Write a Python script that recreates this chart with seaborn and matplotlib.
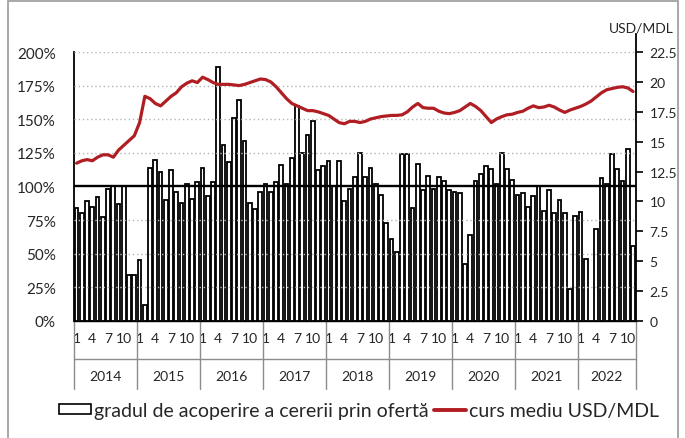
import matplotlib
matplotlib.use("Agg")
import matplotlib.pyplot as plt
import matplotlib.transforms as mtransforms
from matplotlib.patches import Patch, Rectangle
from matplotlib.lines import Line2D
import seaborn as sns
import pandas as pd
import numpy as np

# coverage of demand by supply (%), monthly, Jan 2014 - Nov 2022
coverage_2014 = [84, 80, 89, 85, 92, 77, 98, 100, 87, 100, 34, 34]
coverage_2015 = [45, 12, 114, 120, 111, 90, 112, 96, 88, 102, 91, 103]
coverage_2016 = [114, 93, 103, 189, 131, 118, 151, 164, 134, 88, 83, 96]
coverage_2017 = [102, 96, 103, 116, 102, 121, 160, 125, 138, 149, 112, 115]
coverage_2018 = [119, 100, 119, 89, 98, 107, 125, 107, 114, 102, 94, 73]
coverage_2019 = [61, 51, 124, 124, 84, 117, 97, 108, 98, 107, 104, 97]
coverage_2020 = [96, 95, 42, 64, 104, 109, 115, 113, 102, 125, 113, 105]
coverage_2021 = [94, 95, 85, 93, 100, 82, 97, 80, 90, 80, 24, 78]
coverage_2022 = [81, 46, 0, 68, 106, 102, 124, 113, 104, 128, 56]

# average USD/MDL rate
usd_2014 = [13.2, 13.4, 13.5, 13.4, 13.7, 13.9, 13.9, 13.7, 14.3, 14.7, 15.1, 15.5]
usd_2015 = [16.6, 18.8, 18.6, 18.2, 18.0, 18.4, 18.8, 19.1, 19.6, 19.9, 20.1, 19.95]
usd_2016 = [20.4, 20.2, 19.95, 19.8, 19.8, 19.8, 19.75, 19.7, 19.8, 19.95, 20.1, 20.25]
usd_2017 = [20.2, 20.0, 19.6, 19.1, 18.6, 18.2, 18.0, 17.8, 17.6, 17.6, 17.5, 17.35]
usd_2018 = [17.2, 16.9, 16.6, 16.5, 16.7, 16.7, 16.6, 16.7, 16.9, 17.0, 17.1, 17.15]
usd_2019 = [17.2, 17.2, 17.25, 17.5, 17.9, 18.2, 17.85, 17.8, 17.8, 17.55, 17.4, 17.35]
usd_2020 = [17.45, 17.6, 17.9, 18.2, 17.95, 17.6, 17.1, 16.6, 16.9, 17.1, 17.25, 17.3]
usd_2021 = [17.45, 17.55, 17.8, 18.0, 17.85, 17.9, 18.05, 17.9, 17.65, 17.45, 17.65, 17.8]
usd_2022 = [17.95, 18.15, 18.4, 18.75, 19.1, 19.35, 19.45, 19.55, 19.6, 19.5, 19.2]

years = ["2014", "2015", "2016", "2017", "2018", "2019", "2020", "2021", "2022"]
month_labels = {0: "1", 3: "4", 6: "7", 9: "10"}

coverage = (coverage_2014 + coverage_2015 + coverage_2016 + coverage_2017 + coverage_2018
            + coverage_2019 + coverage_2020 + coverage_2021 + coverage_2022)
usd = (usd_2014 + usd_2015 + usd_2016 + usd_2017 + usd_2018
       + usd_2019 + usd_2020 + usd_2021 + usd_2022)
n = len(coverage)
df = pd.DataFrame({"idx": np.arange(n), "cov": np.array(coverage) / 100, "usd": usd})

sns.set_style("white")
plt.rcParams["font.family"] = ["Lato", "DejaVu Sans"]
FS = 10
RED = "#b01e24"

fig = plt.figure(figsize=(6.85, 4.39), dpi=100)
ax = fig.add_axes([0.108, 0.267, 0.82, 0.612])

sns.barplot(data=df, x="idx", y="cov", order=list(range(n)), color="white", saturation=1,
            edgecolor="black", linewidth=1.3, width=0.72, ax=ax, zorder=2)

for v in np.arange(0.25, 2.01, 0.25):
    if abs(v - 1.0) > 1e-6:
        ax.axhline(v, color="#b5b5b5", lw=1.0, ls=(0, (1, 2)), zorder=3)
ax.axhline(1.0, color="black", lw=1.7, zorder=4)

ax.set_ylim(0, 2.0)
ax.set_xlim(-0.5, n - 0.5)
ax.set_yticks(np.arange(0, 2.01, 0.25))
ax.set_yticklabels([f"{int(round(v * 100))}%" for v in np.arange(0, 2.01, 0.25)], fontsize=11)
ax.tick_params(axis="y", length=0, pad=13)

ticks = [i for i in range(n) if i % 12 in month_labels]
ax.set_xticks(ticks)
ax.set_xticklabels([month_labels[i % 12] for i in ticks], fontsize=FS)
ax.tick_params(axis="x", length=0, pad=8)
ax.set_xlabel("")
ax.set_ylabel("")

for s in ["top", "right"]:
    ax.spines[s].set_visible(False)
ax.spines["left"].set_color("black")
ax.spines["left"].set_linewidth(1.3)
ax.spines["bottom"].set_color("black")
ax.spines["bottom"].set_linewidth(1.0)

# two-level category axis
trans = mtransforms.blended_transform_factory(ax.transData, ax.transAxes)
bounds = [-0.5 + 12 * k for k in range(len(years))] + [n - 0.5]
for b in bounds:
    ax.plot([b, b], [0, -0.253], transform=trans, color="#8c8c8c", lw=1.0, clip_on=False)
ax.plot([-0.5, n - 0.5], [-0.141, -0.141], transform=trans, color="#8c8c8c", lw=1.0, clip_on=False)
for k, yr in enumerate(years):
    c = (bounds[k] + bounds[k + 1]) / 2
    ax.text(c, -0.207, yr, transform=trans, ha="center", va="center", fontsize=FS)

ax2 = ax.twinx()
sns.lineplot(data=df, x="idx", y="usd", color=RED, lw=2.3, ax=ax2)
ax2.set_ylim(0, 22.5)
ax2.set_xlim(-0.5, n - 0.5)
rt = np.arange(0, 22.51, 2.5)
ax2.set_yticks(rt)
ax2.set_yticklabels([f"{v:g}" for v in rt], fontsize=FS)
ax2.tick_params(axis="y", direction="out", length=5, width=1.2, color="black", pad=5)
ax2.set_ylabel("")
for s in ["top", "left", "bottom"]:
    ax2.spines[s].set_visible(False)
ax2.spines["right"].set_color("black")
ax2.spines["right"].set_linewidth(1.3)
ax2.spines["right"].set_bounds(0, 24)
ax2.text(1.01, 1.07, "USD/MDL", transform=ax2.transAxes, ha="center", va="bottom", fontsize=FS)

handles = [Patch(facecolor="white", edgecolor="black", linewidth=1.2),
           Line2D([0], [0], color=RED, lw=2.8)]
fig.legend(handles, ["gradul de acoperire a cererii prin ofertă", "curs mediu USD/MDL"],
           loc="center", bbox_to_anchor=(0.524, 0.063), ncol=2, frameon=False, fontsize=14,
           handlelength=1.65, handleheight=0.45, handletextpad=0.15, columnspacing=0.3)

fig.add_artist(Rectangle((8 / 685, -0.01), 670 / 685, 1.005, transform=fig.transFigure,
                         fill=False, edgecolor="#9a9a9a", lw=1.2))

fig.savefig("out.png", dpi=100)
